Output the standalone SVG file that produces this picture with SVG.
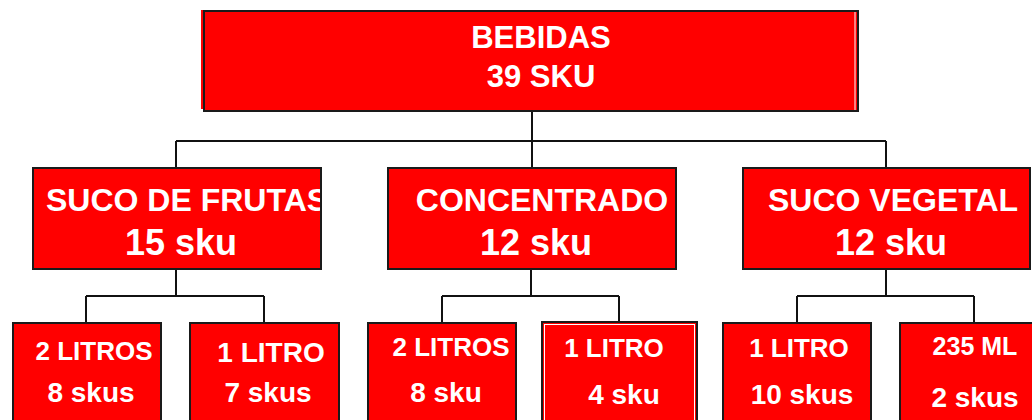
<svg xmlns="http://www.w3.org/2000/svg" width="1032" height="420" viewBox="0 0 1032 420">
<style>
.box{fill:#ff0000;stroke:#1a1a1a;stroke-width:2}
.t{fill:#ffffff;font-family:"Liberation Sans",Arial,sans-serif;font-weight:bold;text-anchor:middle}
.l1{font-size:31px}
.l2a{font-size:32px}
.l2b{font-size:36px}
.l3{font-size:26px}
.l3b{font-size:28px}
.con{fill:none;stroke:#111;stroke-width:2}
</style>
<defs>
<clipPath id="clipFrutas"><rect x="33" y="169" width="287" height="100"/></clipPath>
</defs>
<rect width="1032" height="420" fill="#ffffff"/>
<g id="connectors">
<path class="con" d="M532 111 V141 M176 141 H886 M176 141 V168 M532 141 V168 M886 141 V168"/>
<path class="con" d="M176 270 V296 M86 296 H264 M86 296 V323 M264 296 V323"/>
<path class="con" d="M531 270 V296 M442 296 H619 M442 296 V322 M619 296 V322"/>
<path class="con" d="M886 270 V296 M797 296 H974 M797 296 V323 M974 296 V323"/>
</g>
<g id="bebidas">
<rect x="201" y="10" width="4" height="99" fill="#ff0000"/>
<rect class="box" x="204" y="11" width="654" height="100"/>
<line x1="855" y1="12" x2="855" y2="110" stroke="#fff" stroke-width="1"/>
<text class="t l1" x="541" y="48">BEBIDAS</text>
<text class="t l1" x="541" y="87">39 SKU</text>
</g>
<g id="suco-frutas">
<rect class="box" x="33" y="168" width="288" height="101"/>
<g clip-path="url(#clipFrutas)">
<text class="t l2a" x="46" y="211" text-anchor="start" style="text-anchor:start">SUCO DE FRUTAS</text>
</g>
<text class="t l2b" x="181" y="255">15 sku</text>
</g>
<g id="concentrado">
<rect class="box" x="388" y="168" width="288" height="101"/>
<text class="t l2a" x="542" y="211">CONCENTRADO</text>
<text class="t l2b" x="536" y="255">12 sku</text>
</g>
<g id="suco-vegetal">
<rect class="box" x="743" y="168" width="287" height="101"/>
<text class="t l2a" x="893" y="211">SUCO VEGETAL</text>
<text class="t l2b" x="891" y="255">12 sku</text>
</g>
<g id="frutas-2l">
<rect class="box" x="13" y="323" width="148" height="110"/>
<text class="t l3" x="94" y="360">2 LITROS</text>
<text class="t l3b" x="91" y="402">8 skus</text>
</g>
<g id="frutas-1l">
<rect class="box" x="190" y="323" width="149" height="110"/>
<text class="t l3b" x="271" y="362">1 LITRO</text>
<text class="t l3b" x="268" y="402">7 skus</text>
</g>
<g id="conc-2l">
<rect class="box" x="368" y="323" width="148" height="110"/>
<text class="t l3" x="451" y="356">2 LITROS</text>
<text class="t l3b" x="446" y="402">8 sku</text>
</g>
<g id="conc-1l">
<rect class="box" x="542" y="322" width="155" height="110"/>
<rect x="544.5" y="324.5" width="150" height="110" fill="none" stroke="#fff" stroke-width="1"/>
<text class="t l3" x="614" y="357">1 LITRO</text>
<text class="t l3b" x="624" y="404">4 sku</text>
</g>
<g id="veg-1l">
<rect class="box" x="723" y="323" width="148" height="110"/>
<text class="t l3" x="799" y="357">1 LITRO</text>
<text class="t l3b" x="802" y="404">10 skus</text>
</g>
<g id="veg-235">
<rect class="box" x="900" y="323" width="148" height="110"/>
<text class="t" style="font-size:25px" x="975" y="355">235 ML</text>
<text class="t l3b" x="975" y="407">2 skus</text>
</g>
</svg>
